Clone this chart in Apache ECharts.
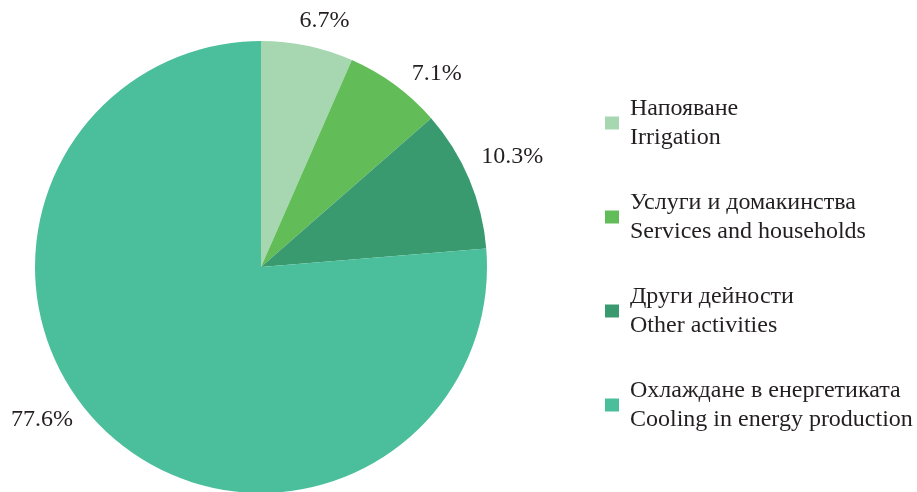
<!DOCTYPE html>
<html lang="bg">
<head>
    <meta charset="UTF-8">
    <title>Water use</title>
    <script src="https://cdn.jsdelivr.net/npm/echarts@6/dist/echarts.min.js"></script>
    <style>
        html, body { margin: 0; padding: 0; background: #fff; }
        #chart { width: 917px; height: 492px; }
    </style>
</head>
<body>
<div id="chart"></div>
<script type="text/javascript">
    // categories (bg / en) and shares, %
    var namesBg = ['Напояване', 'Услуги и домакинства', 'Други дейности', 'Охлаждане в енергетиката'];
    var namesEn = ['Irrigation', 'Services and households', 'Other activities', 'Cooling in energy production'];
    var shares = [6.7, 7.1, 10.3, 77.6];
    var colors = ['#a6d7b0', '#62bd58', '#399a70', '#4bbe9b'];
    // small nudges of the value labels, px
    var labelNudge = [[-15, -15], [6, -3], [-2, -18], [-23, -21]];

    var myChart = echarts.init(document.getElementById('chart'));

    var pieData = shares.map(function (v, i) {
        return { name: namesBg[i] + '\n' + namesEn[i], value: v, itemStyle: { color: colors[i] } };
    });

    var option = {
        animation: false,
        textStyle: { fontFamily: '"Liberation Serif", "Times New Roman", serif' },
        legend: {
            orient: 'vertical',
            left: 600,
            top: 89,
            itemWidth: 14,
            itemHeight: 13,
            itemGap: 36,
            icon: 'rect',
            selectedMode: false,
            textStyle: {
                fontFamily: '"Liberation Serif", "Times New Roman", serif',
                fontSize: 24,
                lineHeight: 29,
                color: '#231f20',
                padding: [0, 0, 0, 6]
            }
        },
        series: [
            {
                type: 'pie',
                center: [261, 267],
                radius: 226,
                startAngle: 90,
                clockwise: true,
                avoidLabelOverlap: false,
                data: pieData,
                label: {
                    show: true,
                    position: 'outside',
                    distanceToLabelLine: 5,
                    fontFamily: '"Liberation Serif", "Times New Roman", serif',
                    fontSize: 24,
                    color: '#231f20',
                    formatter: function (p) { return p.value.toFixed(1) + '%'; }
                },
                labelLine: { show: false, length: 10, length2: 0 },
                labelLayout: function (p) {
                    var n = labelNudge[p.dataIndex];
                    return { dx: n[0], dy: n[1] };
                },
                emphasis: { disabled: true }
            }
        ]
    };
    myChart.setOption(option);
</script>
</body>
</html>
